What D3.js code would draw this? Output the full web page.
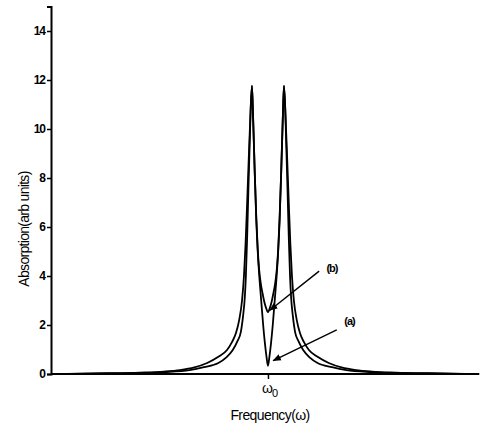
<!DOCTYPE html>
<html>
<head>
<meta charset="utf-8">
<script src="https://cdn.jsdelivr.net/npm/d3@7"></script>
<style>
  html, body { margin: 0; padding: 0; background: #fff; }
  svg { display: block; font-family: "Liberation Sans", Arial, sans-serif; }
</style>
</head>
<body>
<div id="chart"></div>
<script>
// detuning from omega_0 (arb.) and absorption (arb. units)
const freqA = [-13.5, -10, -8, -6.5, -4.9, -4.0, -3.1, -2.6, -2.2, -1.9, -1.7, -1.55, -1.45, -1.38, -1.3, -1.22, -1.15, -1.08, -1.0,
  -0.93, -0.83, -0.73, -0.63, -0.52, -0.41, -0.3, -0.19, -0.09, 0,
  0.09, 0.19, 0.3, 0.41, 0.52, 0.63, 0.73, 0.83, 0.93,
  1.0, 1.08, 1.15, 1.22, 1.3, 1.38, 1.45, 1.55, 1.7, 1.9, 2.2, 2.6, 3.1, 4.0, 4.9, 6.5, 8, 10, 13.2];
const absA = [0.0, 0.02, 0.04, 0.08, 0.16, 0.28, 0.45, 0.68, 0.98, 1.35, 1.7, 2.4, 3.1, 4.0, 5.6, 7.6, 9.2, 10.8, 11.76,
  10.5, 8.3, 6.3, 4.9, 3.8, 2.9, 2.0, 1.25, 0.7, 0.33,
  0.7, 1.25, 2.0, 2.9, 3.8, 4.9, 6.3, 8.3, 10.5,
  11.76, 10.8, 9.2, 7.6, 5.6, 4.0, 3.1, 2.4, 1.7, 1.35, 0.98, 0.68, 0.45, 0.28, 0.16, 0.08, 0.04, 0.02, 0.0];

const freqB = [-13.5, -10, -8, -6.5, -5.5, -4.6, -3.8, -3.1, -2.56, -2.25, -2.0, -1.8, -1.62, -1.5, -1.4, -1.3, -1.2, -1.1, -1.0,
  -0.93, -0.83, -0.73, -0.64, -0.55, -0.45, -0.34, -0.23, -0.12, 0,
  0.12, 0.23, 0.34, 0.45, 0.55, 0.64, 0.73, 0.83, 0.93,
  1.0, 1.1, 1.2, 1.3, 1.4, 1.5, 1.62, 1.8, 2.0, 2.25, 2.56, 3.1, 3.8, 4.6, 5.5, 6.5, 8, 10, 13.2];
const absB = [0.0, 0.03, 0.06, 0.1, 0.16, 0.27, 0.45, 0.7, 0.98, 1.3, 1.67, 2.2, 3.0, 4.0, 5.3, 7.0, 8.8, 10.5, 11.76,
  10.5, 8.3, 6.4, 5.1, 4.25, 3.7, 3.3, 2.95, 2.7, 2.52,
  2.7, 2.95, 3.3, 3.7, 4.25, 5.1, 6.4, 8.3, 10.5,
  11.76, 10.5, 8.8, 7.0, 5.3, 4.0, 3.0, 2.2, 1.67, 1.3, 0.98, 0.7, 0.45, 0.27, 0.16, 0.1, 0.06, 0.03, 0.0];

const yTicks = [0, 2, 4, 6, 8, 10, 12, 14];
const xTicks = [0];

// annotation: label, label position [freq, abs], arrow tip [freq, abs]
const labels = ['(b)', '(a)'];
const labelPos = [[4.0, 4.3], [5.1, 2.1]];
const arrowFrom = [[3.2, 4.2], [4.3, 1.8]];
const arrowTo = [[0.12, 2.6], [0.33, 0.55]];

const width = 480;
const height = 426;

const svg = d3.select('#chart')
  .append('svg')
  .attr('width', width)
  .attr('height', height);

const x = d3.scaleLinear().domain([-13.56, 13.19]).range([51, 479]);
const y = d3.scaleLinear().domain([0, 15]).range([374, 6.5]);

// Y axis
const yAxis = svg.append('g')
  .attr('transform', `translate(${x(-13.56)},0)`)
  .call(d3.axisLeft(y).tickValues(yTicks).tickSize(4).tickPadding(2));
yAxis.select('.domain').attr('stroke', '#000').attr('stroke-width', 2);
yAxis.selectAll('.tick line').attr('stroke', '#000').attr('stroke-width', 1.5);
yAxis.selectAll('.tick text')
  .attr('fill', '#000')
  .style('font-size', '12px')
  .style('font-weight', 'bold')
  .style('letter-spacing', '-1px');

// X axis
const xAxis = svg.append('g')
  .attr('transform', `translate(0,${y(0)})`)
  .call(d3.axisBottom(x).tickValues(xTicks).tickSize(5).tickFormat(() => ''));
xAxis.select('.domain').attr('stroke', '#000').attr('stroke-width', 2).attr('d', `M${x(-13.56)},0H${x(13.19)}`);
xAxis.selectAll('.tick line').attr('stroke', '#000').attr('stroke-width', 1.5);

// omega_0 label
const w0 = svg.append('text')
  .attr('x', x(0) - 6)
  .attr('y', 393)
  .style('font-size', '14px')
  .text('ω');
w0.append('tspan')
  .attr('dy', 4)
  .attr('dx', -1)
  .style('font-size', '11px')
  .text('0');

// axis titles
svg.append('text')
  .attr('x', 270)
  .attr('y', 420)
  .attr('text-anchor', 'middle')
  .style('font-size', '14px')
  .style('letter-spacing', '-0.6px')
  .text('Frequency(ω)');

svg.append('text')
  .attr('transform', 'translate(29,229) rotate(-90)')
  .attr('text-anchor', 'middle')
  .style('font-size', '14px')
  .style('letter-spacing', '-0.7px')
  .text('Absorption(arb units)');

// curves
const line = d3.line()
  .x((d) => x(d[0]))
  .y((d) => y(d[1]))
  .curve(d3.curveMonotoneX);

[[freqA, absA], [freqB, absB]].forEach(([fs, vs]) => {
  svg.append('path')
    .datum(fs.map((f, i) => [f, vs[i]]))
    .attr('d', line)
    .attr('fill', 'none')
    .attr('stroke', '#000')
    .attr('stroke-width', 1.8)
    .attr('stroke-linejoin', 'round');
});

// arrows
svg.append('defs').append('marker')
  .attr('id', 'head')
  .attr('viewBox', '0 0 10 10')
  .attr('refX', 9)
  .attr('refY', 5)
  .attr('markerWidth', 6)
  .attr('markerHeight', 6)
  .attr('orient', 'auto')
  .append('path')
  .attr('d', 'M0,1L10,5L0,9Z')
  .attr('fill', '#000');

labels.forEach((lab, i) => {
  svg.append('line')
    .attr('x1', x(arrowFrom[i][0]))
    .attr('y1', y(arrowFrom[i][1]))
    .attr('x2', x(arrowTo[i][0]))
    .attr('y2', y(arrowTo[i][1]))
    .attr('stroke', '#000')
    .attr('stroke-width', 1.4)
    .attr('marker-end', 'url(#head)');

  svg.append('text')
    .attr('x', x(labelPos[i][0]))
    .attr('y', y(labelPos[i][1]))
    .attr('text-anchor', 'middle')
    .attr('dominant-baseline', 'middle')
    .style('font-size', '11px')
    .style('font-weight', 'bold')
    .style('letter-spacing', '-1px')
    .text(lab);
});
</script>
</body>
</html>
